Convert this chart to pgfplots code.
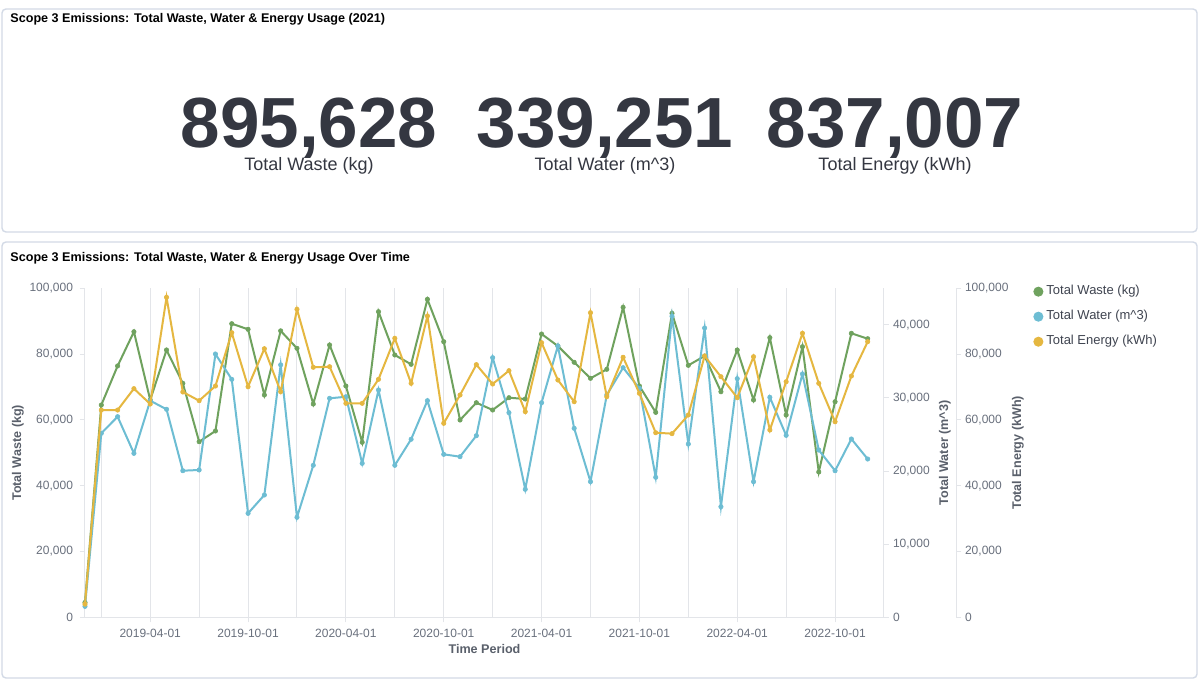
\documentclass[border=0pt]{standalone}
\usepackage{fontspec}
\setmainfont{Liberation Sans}
\usepackage{pgfplots}
\usepackage{pgfplotstable}
\pgfplotsset{compat=1.18}

\definecolor{cwaste}{HTML}{6FA25E}
\definecolor{cwater}{HTML}{6DBDD3}
\definecolor{cenergy}{HTML}{E5B740}
\definecolor{tickgray}{HTML}{69707D}
\definecolor{labgray}{HTML}{5A606B}
\definecolor{gridgray}{HTML}{E3E5E9}
\definecolor{panelborder}{HTML}{D3DAE6}
\definecolor{numdark}{HTML}{343741}
\definecolor{legtext}{HTML}{3F4450}

\pgfplotstableread{
i waste water energy
0 4500 1500 4000
1 64530 25170 63000
2 76400 27440 63000
3 86800 22430 69500
4 66050 29630 64830
5 81250 28450 97260
6 71120 20050 68480
7 53370 20150 65840
8 56630 36010 70300
9 89240 32550 86500
10 87540 14220 70090
11 67570 16730 81640
12 87070 34530 68570
13 81760 13680 93620
14 64830 20790 75990
15 82770 29950 76170
16 70300 30170 65040
17 53190 21060 65040
18 92890 31090 72340
19 79730 20790 84800
20 76900 24350 71120
21 96650 29630 91580
22 83770 22290 58970
23 59970 21970 67570
24 65230 24840 76800
25 63010 35510 70910
26 66750 27990 74960
27 66350 17510 62500
28 86110 29350 83470
29 82460 37110 72130
30 77510 25850 65530
31 72640 18550 92580
32 75380 30410 67050
33 94220 34140 79030
34 70300 31320 68080
35 62300 19150 56110
36 92400 41170 55820
37 76590 23700 61490
38 79420 39570 79420
39 68570 15130 73130
40 81250 32640 66750
41 66050 18550 79210
42 84990 30090 56930
43 61490 24890 71610
44 82250 33280 86320
45 44160 22880 71120
46 65530 20050 59450
47 86320 24390 73340
48 84680 21650 83770
}\datatable

\tikzset{lab/.style={font=\fontsize{6.3}{7}\selectfont\bfseries, text=labgray, inner sep=0pt}}
\pgfplotsset{
  base/.style={
    scale only axis, width=399.5pt, height=164.5pt,
    at={(42.5pt,32.35pt)}, anchor=south west,
    xmin=0, xmax=49, clip=false,
    scaled ticks=false,
    /pgf/number format/fixed,
    /pgf/number format/precision=0,
    /pgf/number format/1000 sep={,},
    /pgf/number format/assume math mode=true,
    tick style={gridgray, line width=0.5pt},
    axis line style={-, gridgray, line width=0.5pt},
    every outer x axis line/.append style={-},
    every outer y axis line/.append style={-},
    every inner x axis line/.append style={-},
    every inner y axis line/.append style={-},
    tick align=outside, major tick length=2.5pt,
    tick label style={font=\fontsize{6}{7}\selectfont, text=tickgray},
  },
  serie/.style={#1, line width=1pt, mark=*, mark size=1.1pt, mark options={solid, line width=0.3pt}},
}

\begin{document}
\begin{tikzpicture}
\path[use as bounding box, fill=white] (0pt,0pt) rectangle (600pt,341pt);
% panels
\draw[panelborder, line width=0.7pt, rounded corners=2pt, fill=white] (1pt,225pt) rectangle (598.5pt,336.5pt);
\draw[panelborder, line width=0.7pt, rounded corners=2pt, fill=white] (1pt,2pt) rectangle (598.5pt,220pt);
% titles
\node[anchor=west, font=\fontsize{6.3}{7}\selectfont\bfseries, text=black, inner sep=0pt] at (5pt,331.5pt) {Scope 3 Emissions: Total Waste, Water \& Energy Usage (2021)};
\node[anchor=west, font=\fontsize{6.3}{7}\selectfont\bfseries, text=black, inner sep=0pt] at (5pt,212pt) {Scope 3 Emissions: Total Waste, Water \& Energy Usage Over Time};
% metrics
\node[anchor=base, font=\fontsize{35.5}{36}\selectfont\bfseries, text=numdark, inner sep=0pt, text depth=0pt] at (154.5pt,267.5pt) {895,628};
\node[anchor=base, font=\fontsize{35.5}{36}\selectfont\bfseries, text=numdark, inner sep=0pt, text depth=0pt] at (302.5pt,267.5pt) {339,251};
\node[anchor=base, font=\fontsize{35.5}{36}\selectfont\bfseries, text=numdark, inner sep=0pt, text depth=0pt] at (447.5pt,267.5pt) {837,007};
\node[anchor=base, font=\fontsize{9}{10}\selectfont, text=numdark, inner sep=0pt, text height=6.3pt] at (154.5pt,255.7pt) {Total Waste (kg)};
\node[anchor=base, font=\fontsize{9}{10}\selectfont, text=numdark, inner sep=0pt, text height=6.3pt] at (302.5pt,255.7pt) {Total Water (m\textasciicircum 3)};
\node[anchor=base, font=\fontsize{9}{10}\selectfont, text=numdark, inner sep=0pt, text height=6.3pt] at (447.5pt,255.7pt) {Total Energy (kWh)};

% waste axis
\begin{axis}[base,
  ymin=0, ymax=100000,
  axis x line*=bottom, axis y line*=left,
  ytick={0,20000,40000,60000,80000,100000},
  xtick={4,10,16,22,28,34,40,46},
  xticklabels={2019-04-01,2019-10-01,2020-04-01,2020-10-01,2021-04-01,2021-10-01,2022-04-01,2022-10-01},
  minor xtick={1,7,13,19,25,31,37,43},
  minor tick length=0pt,
  xmajorgrids, xminorgrids,
  major grid style={gridgray, line width=0.5pt},
  minor grid style={gridgray, line width=0.5pt},
  xlabel={Time Period}, ylabel={Total Waste (kg)},
  every axis y label/.style={at={(axis description cs:-0.08385,0.5)}, rotate=90, anchor=center, lab},
  every axis x label/.style={at={(axis description cs:0.5,-0.0973)}, anchor=center, lab},
  legend style={at={(axis description cs:1.1865,1.019)}, anchor=north west, draw=none, fill=none, inner sep=0pt,
    font=\fontsize{6.5}{8}\selectfont, text=legtext, row sep=3.3pt, nodes={inner sep=1.5pt}},
  legend cell align=left,
]
\addplot[serie=cwaste, forget plot] table[x=i, y=waste] {\datatable};
\addlegendimage{legend image code/.code={\fill[cwaste] (0pt,0pt) circle (2.3pt);}}
\addlegendentry{Total Waste (kg)}
\addlegendimage{legend image code/.code={\fill[cwater] (0pt,0pt) circle (2.3pt);}}
\addlegendentry{Total Water (m\textasciicircum 3)}
\addlegendimage{legend image code/.code={\fill[cenergy] (0pt,0pt) circle (2.3pt);}}
\addlegendentry{Total Energy (kWh)}
\end{axis}

% water axis
\begin{axis}[base,
  ymin=0, ymax=45000,
  axis y line*=right, axis x line=none,
  ytick={0,10000,20000,30000,40000},
  yticklabel style={xshift=-1.5pt},
  ylabel={Total Water (m\textasciicircum 3)},
  every axis y label/.style={at={(axis description cs:1.07634,0.5)}, rotate=90, anchor=center, lab},
]
\addplot[serie=cwater] table[x=i, y=water] {\datatable};
\end{axis}

% energy plot
\begin{axis}[base, ymin=0, ymax=100000, hide axis]
\addplot[serie=cenergy] table[x=i, y=energy] {\datatable};
\end{axis}

% energy axis
\begin{axis}[base, width=1pt, at={(477pt,32.35pt)}, xmin=0, xmax=1,
  ymin=0, ymax=100000,
  axis y line*=right, axis x line=none,
  ytick={0,20000,40000,60000,80000,100000},
  yticklabel style={xshift=-1.5pt},
  ylabel={Total Energy (kWh)},
  every axis y label/.style={at={(axis description cs:32,0.5)}, rotate=90, anchor=center, lab},
]
\end{axis}
\end{tikzpicture}
\end{document}
